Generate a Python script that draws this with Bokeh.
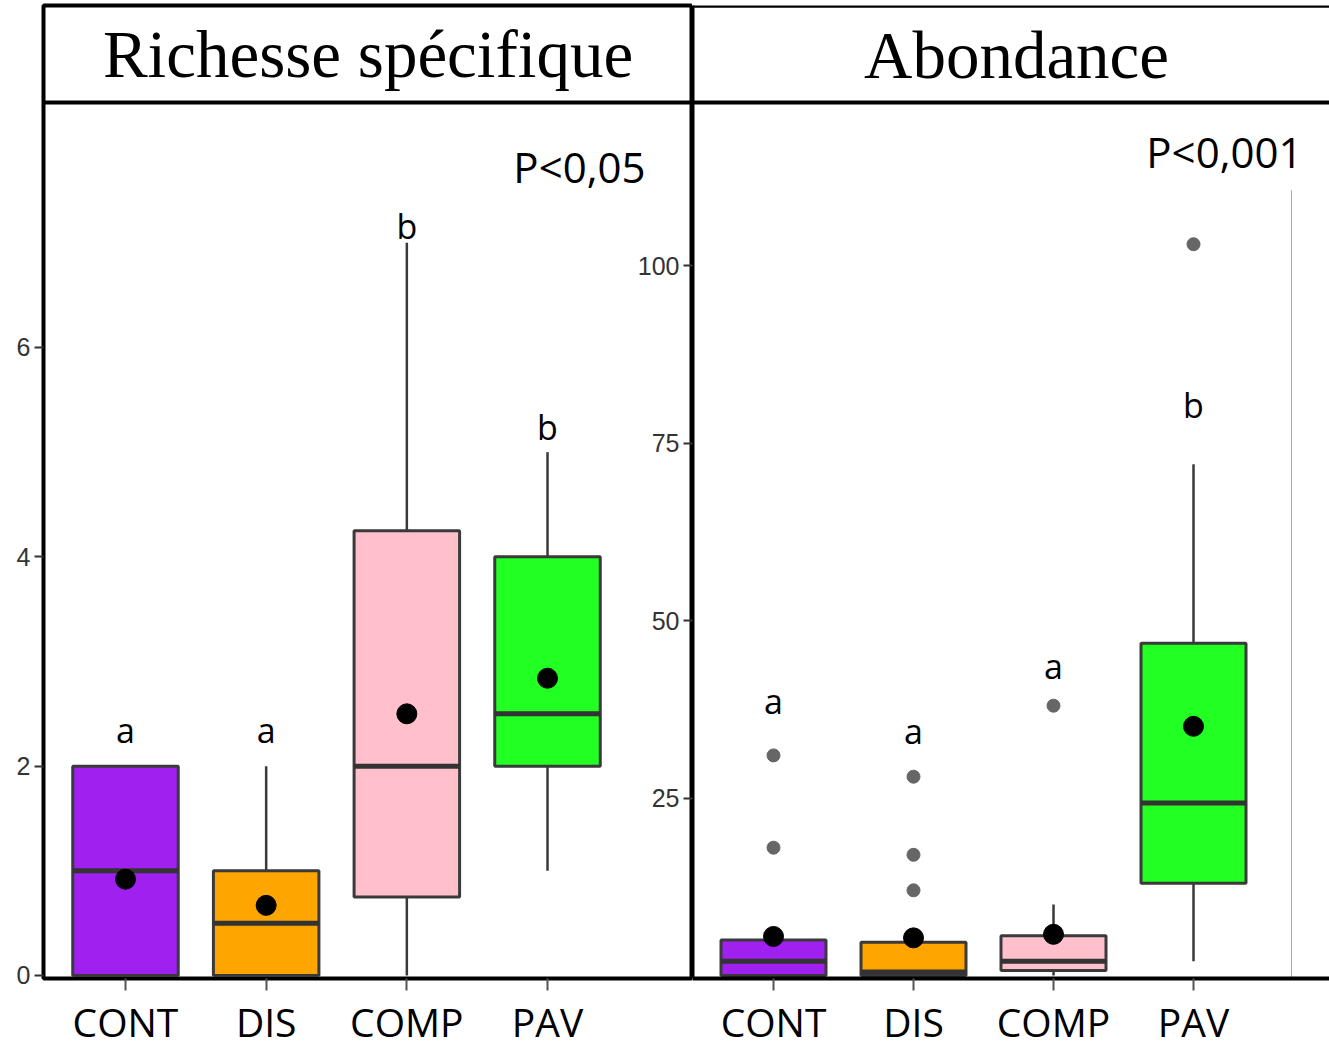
from bokeh.plotting import figure
from bokeh.layouts import row
from bokeh.models import Range1d, FixedTicker, Span, Label
from bokeh.core.properties import value
from bokeh.embed import file_html
from bokeh.resources import INLINE

# ---------------- data ----------------
categories = ["CONT", "DIS", "COMP", "PAV"]
colors = ["#A020F0", "#FFA500", "#FFC0CB", "#22FF22"]

# Richesse spécifique
rich_lower = [0, 0, 0, 1]
rich_q1 = [0, 0, 0.75, 2]
rich_median = [1, 0.5, 2, 2.5]
rich_q3 = [2, 1, 4.25, 4]
rich_upper = [2, 2, 7, 5]
rich_mean = [0.92, 0.67, 2.5, 2.84]
rich_letters = ["a", "a", "b", "b"]
rich_letter_y = [2.35, 2.35, 7.16, 5.24]
rich_out_cat = []
rich_out_val = []
rich_ticks = [0, 2, 4, 6]

# Abondance
abund_lower = [0, 0, 0, 2]
abund_q1 = [0, 0, 0.7, 13]
abund_median = [2, 0.5, 2, 24.3]
abund_q3 = [5, 4.7, 5.6, 46.8]
abund_upper = [5, 4.7, 10, 72]
abund_mean = [5.5, 5.3, 5.8, 35.1]
abund_letters = ["a", "a", "a", "b"]
abund_letter_y = [38.7, 34.5, 43.6, 80.3]
abund_out_cat = ["CONT", "CONT", "DIS", "DIS", "DIS", "COMP", "PAV"]
abund_out_val = [18, 31, 12, 17, 28, 38, 103]
abund_ticks = [25, 50, 75, 100]

pos = [i + 1 for i in range(len(categories))]
cat_pos = dict(zip(categories, pos))
BOX_W = 0.75
EDGE = "#3a3a3a"


def draw_boxes(p, lower, q1, med, q3, upper, mean, letters, letter_y, out_cat, out_val):
    p.segment(x0=pos, y0=q3, x1=pos, y1=upper, line_color=EDGE, line_width=2.5)
    p.segment(x0=pos, y0=lower, x1=pos, y1=q1, line_color=EDGE, line_width=2.5)
    p.vbar(x=pos, width=BOX_W, bottom=q1, top=q3, fill_color=colors,
           line_color=EDGE, line_width=3)
    p.segment(x0=[x - BOX_W / 2 for x in pos], x1=[x + BOX_W / 2 for x in pos],
              y0=med, y1=med, line_color="#333333", line_width=5)
    if out_val:
        p.scatter(x=[cat_pos[c] for c in out_cat], y=out_val, size=13,
                  fill_color="#666666", line_color="#666666")
    p.scatter(x=pos, y=mean, size=20, fill_color="black", line_color="black")
    p.text(x=pos, y=letter_y, text=letters, text_align="center",
           text_baseline="alphabetic", text_font=value("Open Sans"),
           text_font_size="34px", text_color="black")


def style_axes(p, yticks):
    p.xgrid.grid_line_color = None
    p.ygrid.grid_line_color = None
    p.xaxis.ticker = FixedTicker(ticks=pos)
    p.xaxis.major_label_overrides = {x: c for x, c in zip(pos, categories)}
    p.xaxis.major_label_text_font = "Open Sans"
    p.xaxis.major_label_text_font_size = "39px"
    p.xaxis.major_label_text_color = "black"
    p.xaxis.major_tick_out = 12
    p.xaxis.major_tick_in = 0
    p.xaxis.major_tick_line_color = "#555555"
    p.xaxis.major_tick_line_width = 2
    p.xaxis.minor_tick_line_color = None
    p.xaxis.major_label_standoff = 4
    p.yaxis.ticker = FixedTicker(ticks=yticks)
    p.yaxis.major_label_text_font = "Liberation Sans"
    p.yaxis.major_label_text_font_size = "25px"
    p.yaxis.major_label_text_color = "#333333"
    p.yaxis.major_tick_out = 9
    p.yaxis.major_tick_in = 0
    p.yaxis.major_tick_line_color = "#333333"
    p.yaxis.major_tick_line_width = 2
    p.yaxis.minor_tick_line_color = None
    p.yaxis.major_label_standoff = 4


# ---------------- left panel ----------------
pl = figure(width=692, height=1050, output_backend="svg", toolbar_location=None,
            x_range=Range1d(0.4171, 5.0307), y_range=Range1d(-0.0287, 9.267),
            min_border_left=43, min_border_right=0, min_border_top=5,
            min_border_bottom=72)
pl.outline_line_color = "black"
pl.outline_line_width = 4
pl.outline_line_alpha = 1
style_axes(pl, rich_ticks)
pl.xaxis.axis_line_color = None
pl.yaxis.axis_line_color = None
draw_boxes(pl, rich_lower, rich_q1, rich_median, rich_q3, rich_upper, rich_mean,
           rich_letters, rich_letter_y, rich_out_cat, rich_out_val)
pl.add_layout(Span(location=8.34, dimension="width", line_color="black", line_width=4))
pl.add_layout(Label(x=2.724, y=8.80, text="Richesse spécifique", text_align="center",
                    text_baseline="alphabetic", text_font="Liberation Serif",
                    text_font_size="67px", text_color="black"))
pl.add_layout(Label(x=4.697, y=7.73, text="P<0,05", text_align="right",
                    text_baseline="alphabetic", text_font="Open Sans",
                    text_font_size="42px", text_color="black"))

# ---------------- right panel ----------------
pr = figure(width=699, height=1050, output_backend="svg", toolbar_location=None,
            x_range=Range1d(0.4214, 4.9714), y_range=Range1d(-0.4225, 136.62),
            min_border_left=62, min_border_right=0, min_border_top=5,
            min_border_bottom=72, margin=(0, 0, 0, -62))
pr.outline_line_color = None
pr.border_fill_color = None
pr.background_fill_color = None
style_axes(pr, abund_ticks)
pr.xaxis.axis_line_color = "black"
pr.xaxis.axis_line_width = 4
pr.yaxis.axis_line_color = "black"
pr.yaxis.axis_line_width = 4
pr.segment(x0=4.7, x1=4.7, y0=-0.42, y1=110.6, line_color="#aaaaaa", line_width=1)
draw_boxes(pr, abund_lower, abund_q1, abund_median, abund_q3, abund_upper, abund_mean,
           abund_letters, abund_letter_y, abund_out_cat, abund_out_val)
pr.add_layout(Span(location=136.57, dimension="width", line_color="black", line_width=4))
pr.add_layout(Span(location=122.96, dimension="width", line_color="black", line_width=4))
pr.add_layout(Label(x=2.736, y=129.7, text="Abondance", text_align="center",
                    text_baseline="alphabetic", text_font="Liberation Serif",
                    text_font_size="67px", text_color="black"))
pr.add_layout(Label(x=4.779, y=116.0, text="P<0,001", text_align="right",
                    text_baseline="alphabetic", text_font="Open Sans",
                    text_font_size="42px", text_color="black"))

layout = row(pl, pr, spacing=0)
open("out.html", "w").write(file_html(layout, INLINE))
